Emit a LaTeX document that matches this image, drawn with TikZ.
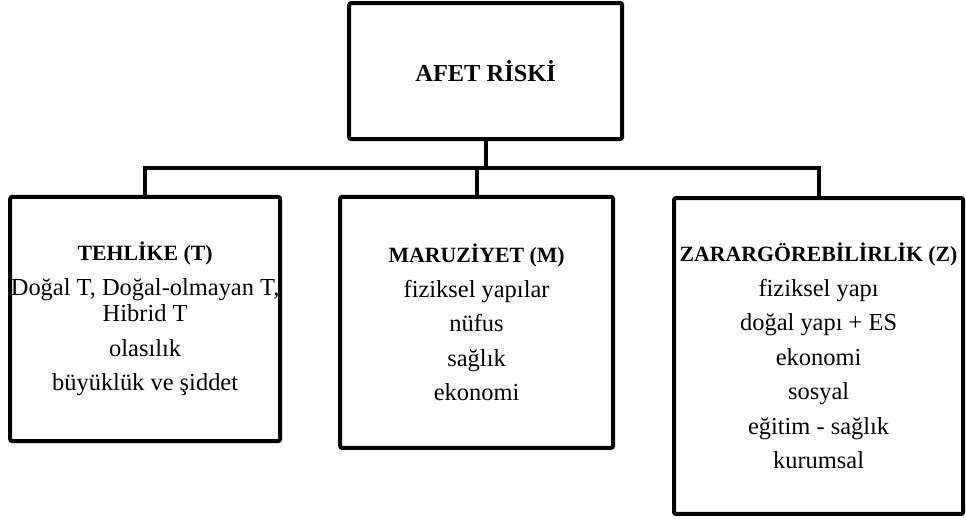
\documentclass[tikz,border=0pt]{standalone}
\usepackage{fontspec}
\setmainfont{Liberation Serif}
\usepackage{tikz}
\usetikzlibrary{positioning, calc}

\newcommand{\boxhead}[1]{{\fontsize{16.4}{20}\selectfont\textbf{#1}}}

\begin{document}
\begin{tikzpicture}[
  riskbox/.style={draw, line width=3pt, rounded corners=1.5pt, align=center, inner sep=0pt, font=\fontsize{18.4}{20}\selectfont},
  link/.style={line width=3pt}
]
  \useasboundingbox (0,0) rectangle (25.56,-13.81);

  \node[riskbox, minimum width=7.22cm, minimum height=3.60cm] (afet) at (12.85,-1.88) {\textbf{AFET RİSKİ}};

  \node[riskbox, minimum width=7.14cm, minimum height=6.46cm] (tehlike) at (3.84,-8.44) {
    \boxhead{TEHLİKE (T)}\\[6pt]
    Doğal T, Doğal-olmayan T,\\
    Hibrid T\\[6pt]
    olasılık\\[6pt]
    büyüklük ve şiddet
  };
  \node[riskbox, minimum width=7.22cm, minimum height=6.64cm] (maruziyet) at (12.61,-8.53) {
    \boxhead{MARUZİYET (M)}\\[6pt]
    fiziksel yapılar\\[6pt]
    nüfus\\[6pt]
    sağlık\\[6pt]
    ekonomi
  };
  \node[riskbox, minimum width=7.65cm, minimum height=8.36cm] (zarar) at (21.66,-9.42) {
    \boxhead{ZARARGÖREBİLİRLİK (Z)}\\[6pt]
    fiziksel yapı\\[6pt]
    doğal yapı + ES\\[6pt]
    ekonomi\\[6pt]
    sosyal\\[6pt]
    eğitim - sağlık\\[6pt]
    kurumsal
  };

  \coordinate (bar) at (0,-4.44);
  \draw[link] (afet.south) -- (afet.south |- bar);
  \draw[link] (tehlike.north) -- (tehlike.north |- bar) -- (zarar.north |- bar) -- (zarar.north);
  \draw[link] (maruziyet.north) -- (maruziyet.north |- bar);
\end{tikzpicture}
\end{document}
